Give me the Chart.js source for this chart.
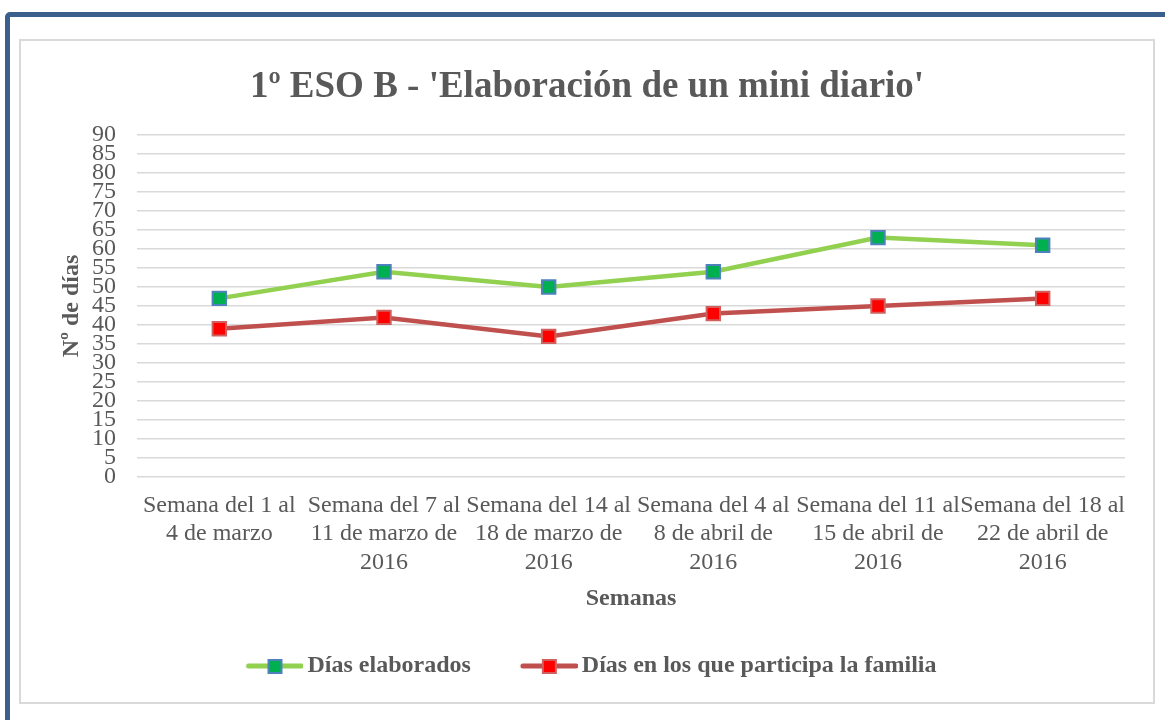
<!DOCTYPE html>
<html lang="es">
<head>
<meta charset="utf-8">
<title>1º ESO B - Elaboración de un mini diario</title>
<script src="https://cdn.jsdelivr.net/npm/chart.js@4.4.1/dist/chart.umd.min.js"></script>
<style>
    html, body { margin: 0; padding: 0; background: #fff; overflow: hidden; }
    body { width: 1165px; height: 720px; position: relative; }
    .outer-frame {
        position: absolute; left: 5px; top: 12px; width: 1300px; height: 900px;
        border: 5px solid #3a5f8d; border-radius: 5px; box-sizing: border-box;
    }
    .chart-frame {
        position: absolute; left: 19px; top: 39px; width: 1136px; height: 665px;
        border: 2px solid #d9d9d9; box-sizing: border-box; background: #fff;
    }
    #diarioChart { position: absolute; left: 0; top: 0; }
</style>
</head>
<body>
<div class="outer-frame"></div>
<div class="chart-frame"></div>
<canvas id="diarioChart" width="1165" height="720"></canvas>

<script>
// Weeks (x axis), wrapped the same way as in the original
const semanas = [
    ['Semana del 1 al', '4 de marzo'],
    ['Semana del 7 al', '11 de marzo de', '2016'],
    ['Semana del 14 al', '18 de marzo de', '2016'],
    ['Semana del 4 al', '8 de abril de', '2016'],
    ['Semana del 11 al', '15 de abril de', '2016'],
    ['Semana del 18 al', '22 de abril de', '2016']
];
const diasElaborados = [47, 54, 50, 54, 63, 61];
const diasFamilia = [39, 42, 37, 43, 45, 47];
const yMin = 0;
const yMax = 90;
const yStep = 5;

const TEXT = '#595959';
const SERIF = '"Liberation Serif", "Times New Roman", serif';

// Legend symbol: a short line with the square marker in the middle
function legendSymbol(lineColor, fill, border) {
    const c = document.createElement('canvas');
    c.width = 96;
    c.height = 20;
    const g = c.getContext('2d');
    g.strokeStyle = lineColor;
    g.lineWidth = 5;
    g.lineCap = 'round';
    g.beginPath();
    g.moveTo(41, 10);
    g.lineTo(94, 10);
    g.stroke();
    g.fillStyle = fill;
    g.fillRect(61, 4, 13, 13);
    g.strokeStyle = border;
    g.lineWidth = 2;
    g.strokeRect(61, 4, 13, 13);
    return c;
}

const series = [
    { label: 'Días elaborados', data: diasElaborados, line: '#92d050', fill: '#00b050', border: '#4f81bd' },
    { label: 'Días en los que participa la familia', data: diasFamilia, line: '#c0504d', fill: '#ff0000', border: '#d0605d' }
];

// the legend row sits a little left of centre in the original
const legendNudge = {
    id: 'legendNudge',
    afterLayout(chart) {
        if (chart.legend) {
            chart.legend.left -= 11;
            chart.legend.right -= 11;
        }
    }
};

const ctx = document.getElementById('diarioChart').getContext('2d');
new Chart(ctx, {
    type: 'line',
    data: {
        labels: semanas,
        datasets: series.map(s => ({
            label: s.label,
            data: s.data,
            borderColor: s.line,
            backgroundColor: s.fill,
            borderWidth: 4.5,
            tension: 0,
            pointStyle: 'rect',
            pointRadius: 9.5,
            pointHoverRadius: 9.5,
            pointBorderWidth: 2,
            pointBackgroundColor: s.fill,
            pointBorderColor: s.border,
            legendImage: legendSymbol(s.line, s.fill, s.border)
        }))
    },
    options: {
        responsive: false,
        animation: false,
        layout: { padding: { left: 20, right: 11, top: 40, bottom: 32 } },
        plugins: {
            title: {
                display: true,
                text: "1º ESO B - 'Elaboración de un mini diario'",
                color: TEXT,
                font: { family: SERIF, size: 37, weight: 'bold' },
                padding: { top: 25, bottom: 25.6 }
            },
            legend: {
                position: 'bottom',
                labels: {
                    usePointStyle: true,
                    pointStyleWidth: 80,
                    padding: 19,
                    color: TEXT,
                    font: { family: SERIF, size: 24, weight: 'bold' },
                    generateLabels: (chart) => chart.data.datasets.map((ds, i) => ({
                        text: ds.label,
                        fontColor: TEXT,
                        pointStyle: ds.legendImage,
                        datasetIndex: i,
                        hidden: false,
                        lineWidth: 0
                    }))
                }
            },
            tooltip: { enabled: false }
        },
        scales: {
            x: {
                offset: true,
                grid: { display: false },
                border: { display: false },
                ticks: {
                    color: TEXT,
                    font: { family: SERIF, size: 24, lineHeight: 1.2 },
                    padding: 6,
                    maxRotation: 0,
                    minRotation: 0,
                    autoSkip: false
                },
                title: {
                    display: true,
                    text: 'Semanas',
                    color: TEXT,
                    font: { family: SERIF, size: 24, weight: 'bold' },
                    padding: { top: 0, bottom: 22 }
                },
                afterFit: (scale) => { scale.height = 158; }
            },
            y: {
                min: yMin,
                max: yMax,
                grid: { color: '#d9d9d9', lineWidth: 1.5, drawTicks: false },
                border: { display: false },
                ticks: {
                    stepSize: yStep,
                    autoSkip: false,
                    color: TEXT,
                    padding: 21,
                    font: { family: SERIF, size: 24 }
                },
                title: {
                    display: true,
                    text: 'Nº de días',
                    color: TEXT,
                    font: { family: SERIF, size: 24, weight: 'bold' },
                    padding: { top: 37, bottom: 0 }
                },
                afterFit: (scale) => { scale.width = 117; }
            },
            // empty right axis, only there to keep the plot area off the right edge
            yRight: {
                position: 'right',
                grid: { display: false },
                border: { display: false },
                ticks: { display: false },
                afterFit: (scale) => { scale.width = 29; }
            }
        }
    },
    plugins: [legendNudge]
});
</script>
</body>
</html>
